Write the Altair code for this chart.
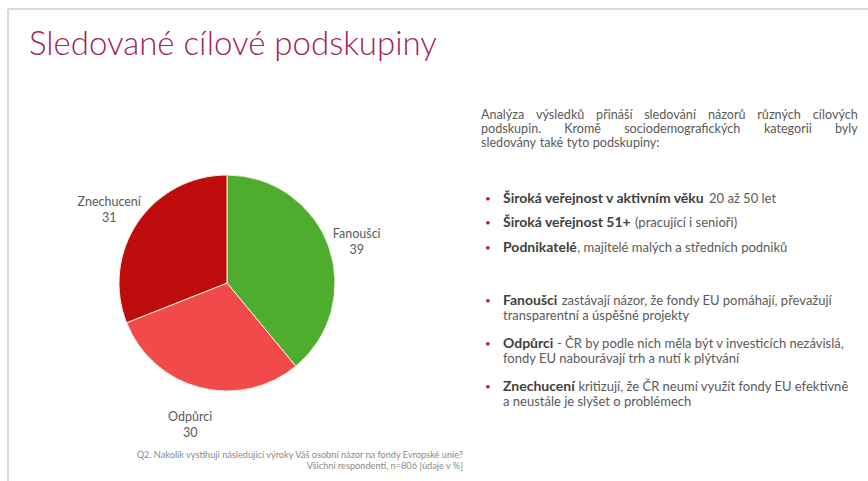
import altair as alt
import pandas as pd
import glob
import os
import struct

# ---- data ----
categories = ["Fanoušci", "Odpůrci", "Znechucení"]
values = [39, 30, 31]
colors = ["#4EAC2E", "#F24A4A", "#BE0C0C"]

title_text = "Sledované cílové podskupiny"
para_lines = [
    ["Analýza", "výsledků", "přináší", "sledování", "názorů", "různých", "cílových"],
    ["podskupin.", "Kromě", "sociodemografických", "kategorii", "byly"],
    ["sledovány", "také", "tyto", "podskupiny:"],
]
bullets_a = [
    ("Široká veřejnost v aktivním věku", "20 až 50 let"),
    ("Široká veřejnost 51+", "(pracující i senioři)"),
    ("Podnikatelé", ", majitelé malých a středních podniků"),
]
bullets_b = [
    ("Fanoušci", "zastávají názor, že fondy EU pomáhají, převažují", "transparentní  a úspěšné projekty"),
    ("Odpůrci", "- ČR by podle nich měla být v investicích nezávislá,", "fondy EU nabourávají trh a nutí k plýtvání"),
    ("Znechucení", "kritizují, že ČR neumí využít fondy EU efektivně", "a neustále je slyšet o problémech"),
]
footer = [
    "Q2. Nakolik vystihují následující výroky Váš osobní názor na fondy Evropské unie?",
    "Všichni respondenti, n=806 [údaje v %]",
]


# ---- minimal font metrics reader (layout only) ----
def _parse_font(path):
    data = open(path, "rb").read()
    off0 = struct.unpack(">I", data[12:16])[0] if data[:4] == b"ttcf" else 0
    ntab = struct.unpack(">H", data[off0 + 4:off0 + 6])[0]
    tabs = {}
    for i in range(ntab):
        r = off0 + 12 + 16 * i
        tag = data[r:r + 4].decode("latin1")
        o, ln = struct.unpack(">II", data[r + 8:r + 16])
        tabs[tag] = o
    upem = struct.unpack(">H", data[tabs["head"] + 18:tabs["head"] + 20])[0]
    nhm = struct.unpack(">H", data[tabs["hhea"] + 34:tabs["hhea"] + 36])[0]
    hm = tabs["hmtx"]
    adv = [struct.unpack(">H", data[hm + 4 * i:hm + 4 * i + 2])[0] for i in range(nhm)]
    cm = tabs["cmap"]
    n = struct.unpack(">H", data[cm + 2:cm + 4])[0]
    subs = {}
    for i in range(n):
        p, e, o = struct.unpack(">HHI", data[cm + 4 + 8 * i:cm + 12 + 8 * i])
        subs[(p, e)] = cm + o
    mapping = {}
    sub = subs.get((3, 10)) or subs.get((0, 4))
    if sub is not None and struct.unpack(">H", data[sub:sub + 2])[0] == 12:
        ng = struct.unpack(">I", data[sub + 12:sub + 16])[0]
        for g in range(ng):
            s, e, sg = struct.unpack(">III", data[sub + 16 + 12 * g:sub + 28 + 12 * g])
            if s > 0x2FFF:
                continue
            for c in range(s, min(e, 0x2FFF) + 1):
                mapping[c] = sg + c - s
    else:
        sub = subs.get((3, 1)) or subs.get((0, 3)) or list(subs.values())[0]
        seg2 = struct.unpack(">H", data[sub + 6:sub + 8])[0]
        seg = seg2 // 2
        ends = struct.unpack(">%dH" % seg, data[sub + 14:sub + 14 + seg2])
        st = sub + 16 + seg2
        starts = struct.unpack(">%dH" % seg, data[st:st + seg2])
        deltas = struct.unpack(">%dh" % seg, data[st + seg2:st + 2 * seg2])
        rpos = st + 2 * seg2
        ranges = struct.unpack(">%dH" % seg, data[rpos:rpos + seg2])
        for i in range(seg):
            for c in range(starts[i], min(ends[i], 0x2FFF) + 1):
                if c == 0xFFFF:
                    continue
                if ranges[i] == 0:
                    g = (c + deltas[i]) & 0xFFFF
                else:
                    a = rpos + 2 * i + ranges[i] + 2 * (c - starts[i])
                    g = struct.unpack(">H", data[a:a + 2])[0]
                    if g:
                        g = (g + deltas[i]) & 0xFFFF
                mapping[c] = g

    def width(text, size):
        tot = 0
        for ch in text:
            g = mapping.get(ord(ch), 0)
            tot += adv[min(g, nhm - 1)]
        return tot / upem * size
    return width


def _find(patterns):
    roots = ["/usr/share/fonts", "/usr/local/share/fonts", os.path.expanduser("~/.fonts"),
             os.path.expanduser("~/.local/share/fonts")]
    for pat in patterns:
        for r in roots:
            for p in glob.glob(os.path.join(r, "**", pat), recursive=True):
                try:
                    return _parse_font(p)
                except Exception:
                    pass
    return None


_reg = _find(["Lato-Regular.ttf", "Lato-Regular.otf", "Lato*Regular*"])
_bold = _find(["Lato-Bold.ttf", "Lato-Bold.otf", "Lato*Bold.*"])
w_reg = _reg or (lambda t, s: len(t) * 0.5 * s)
w_bold = _bold or (lambda t, s: len(t) * 0.54 * s)

FONT = "Lato"
DARK = "#3f3f3f"
GREY = "#5a5a5a"
REG = 13
PARA = 12.6
BOLD = 14

base = alt.Data(values=[{"a": 1}])


def txt(s, x, y, size=None, color=GREY, weight="normal", align="left", baseline="middle"):
    return alt.Chart(base).mark_text(
        text=s, font=FONT, fontSize=size or REG, color=color, fontWeight=weight,
        align=align, baseline=baseline,
    ).encode(x=alt.value(x), y=alt.value(y))


layers = []

# slide frame
layers.append(alt.Chart(base).mark_rule(color="#d9d9d9", strokeWidth=2).encode(
    x=alt.value(8), x2=alt.value(868), y=alt.value(9)))
layers.append(alt.Chart(base).mark_rule(color="#d9d9d9", strokeWidth=2).encode(
    x=alt.value(8), y=alt.value(9), y2=alt.value(481)))

# title
layers.append(txt(title_text, 29, 45, size=33, color="#A2225A", weight=300))

# pie
pie_df = pd.DataFrame({
    "kat": categories,
    "val": values,
    "ord": list(range(len(categories))),
    "lab": [f"{c}\n{v}" for c, v in zip(categories, values)],
})
arc = alt.Chart(pie_df).mark_arc(outerRadius=108, stroke="#f3efd8", strokeWidth=1).encode(
    theta=alt.Theta("val:Q", stack=True),
    color=alt.Color("kat:N", scale=alt.Scale(domain=categories, range=colors), legend=None),
    order=alt.Order("ord:Q"),
    x=alt.value(227), y=alt.value(283),
)
labels = alt.Chart(pie_df).mark_text(
    radius=140, lineBreak="\n", font=FONT, fontSize=12.5, color=GREY, lineHeight=16,
).encode(
    theta=alt.Theta("val:Q", stack=True),
    order=alt.Order("ord:Q"),
    text="lab:N",
    x=alt.value(225), y=alt.value(281),
)
layers += [arc, labels]

# paragraph: first two lines justified between X0 and X1
X0, X1 = 481, 858
line_y = [115, 129, 143]
pspace = w_reg(" ", PARA)
for li, (words, y) in enumerate(zip(para_lines, line_y)):
    widths = [w_reg(w, PARA) for w in words]
    if li < 2:
        gap = max((X1 - X0 - sum(widths)) / (len(words) - 1), pspace)
    else:
        gap = pspace
    x = X0
    for w, wd in zip(words, widths):
        layers.append(txt(w, x, y, size=PARA))
        x += wd + gap

# bullets
BX, TX = 485, 503
space = w_reg(" ", REG)


def bullet(b, r, y):
    out = [txt("•", BX, y, size=10, color="#C2185B"),
           txt(b, TX, y, size=BOLD, color=DARK, weight="bold")]
    rx = TX + w_bold(b, BOLD) + (0 if r.startswith(",") else space)
    out.append(txt(r, rx, y))
    return out


for (b, r), y in zip(bullets_a, [199, 223, 248]):
    layers += bullet(b, r, y)

for (b, r, l2), y in zip(bullets_b, [301, 344, 387]):
    layers += bullet(b, r, y)
    layers.append(txt(l2, TX, y + 15))

# footer
layers.append(txt(footer[0], 463, 455, size=9.2, color="#8a8a8a", align="right"))
layers.append(txt(footer[1], 463, 466, size=9.2, color="#8a8a8a", align="right"))

chart = alt.layer(*layers).properties(
    width=868, height=481, autosize="none", padding=0, background="white"
).configure_view(stroke=None)

chart.save("out.html", embed_options={"renderer": "svg", "actions": False})
